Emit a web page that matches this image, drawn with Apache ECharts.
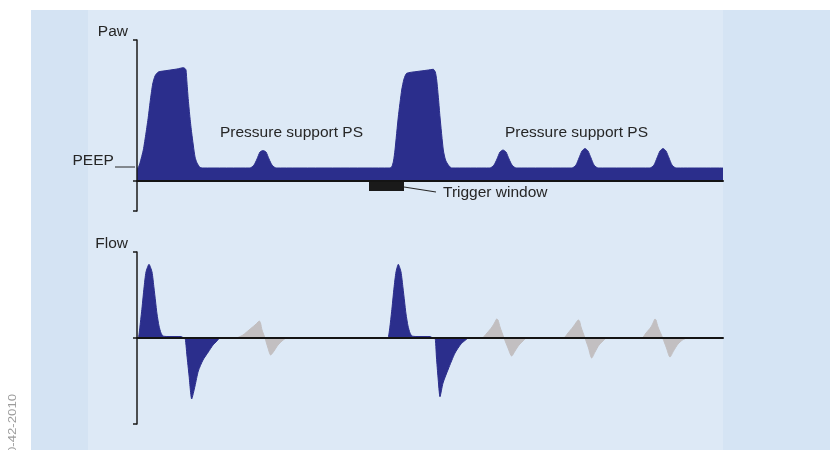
<!DOCTYPE html>
<html>
<head>
<meta charset="utf-8">
<script src="https://cdn.jsdelivr.net/npm/echarts@6/dist/echarts.min.js"></script>
<style>html,body{margin:0;padding:0;background:#fff;}#c{width:830px;height:450px;}</style>
</head>
<body>
<div id="c"></div>
<script>
// ---- Data (time in arbitrary units, pressure / flow in arbitrary units) ----
const pawTime = [0,1.5,3,6.3,9,11.3,13.5,15.7,18,21.3,30,40,46.3,48,49,50,51.3,53,54.7,58,60,63,66,
  113,117,120,123,126,129,132,135,139,
  252,254.7,256.5,258,261.3,264.7,267,269.7,280,290,296.3,298.3,299.7,301.5,303,306.3,308.5,311.3,314.7,
  353,357,360,363,366,369,372,375,379,
  435,439,442,445,448,451,454,457,461,
  513,517,520,523,526,529,532,535,539,
  586];
const pawValue = [12.5,14,18,31,48,64,82,97,105,109,110.5,112,113.3,112.5,111,98,81,63,48,24,18,13.7,13,
  13,16,22,29,30.5,29,22,16,13,
  13,14,20,31,64,91,102,107.7,109.5,110.8,111.7,109,101,82,64,31,21,16,13,
  13,16,22,29,31,29,22,16,13,
  13,16,23,30,32.5,30,23,16,13,
  13,16,23,30,32.5,30,23,16,13,
  13];
const flowMandTime = [0,1.3,3,5,7,9,12,15,17,18.5,20,22,24,26,30,44,47,
  48,50,52,54.7,58,61.3,66,71.3,76,80,83,
  249.7,251,253,255,257,259,261.3,264,266,267.5,269,271,273,275,279,293,296,
  298,299.5,301,303,306,311.3,318,324,331];
const flowMandValue = [0,0,12,30,50,66,73.7,66,50,37,24,12,5,2,1.5,1.5,0,
  0,-18,-37,-61,-48,-33,-22,-14,-7,-3,0,
  0,0,12,30,50,66,73.7,66,50,37,24,12,5,2,1.5,1.5,0,
  0,-20,-39,-58.7,-45,-31,-15,-6,0];
const flowSpontTime = [99.7,106,112,118,121,122.3,123.5,125,128,131,133.7,137,141,145,149.7,
  344.7,350,355,358,359.7,361,363,367,371,374.7,378,382,386,389.7,
  426.3,431,436,439.5,441.3,442.5,444,448,451.5,454.7,458,462,466,469.7,
  504.7,509,514,516.5,518,519,521,525.7,529.5,533,536.5,541,545.5,549.7];
const flowSpontValue = [0,3,8,13,16,17,15,8,0,-10,-17,-13,-7,-3,0,
  0,5,11,16,19,18,11,0,-10,-18,-13,-7,-3,0,
  0,5,11,16,18,17,11,0,-10,-20,-14,-7,-3,0,
  0,5,11,16,19,18,11,0,-10,-19,-13,-6,-2,0];
const triggerWindow = [232, 267];   // time range
const triggerDepth = -10;
const timeRange = [0, 586];
const pawRange = [-30, 141];
const flowRange = [-86, 86];
const labels = {paw: 'Paw', flow: 'Flow', peep: 'PEEP', ps: 'Pressure support PS', trig: 'Trigger window', code: '0-42-2010'};

// ---- Build ----
const zip = (a, b) => a.map((v, i) => [v, b[i]]);
const NAVY = '#2b2e8c', GRAY = '#c2bfc1', INK = '#262626', AX = '#1a1a1a';
const FONT = '15.5px "Liberation Sans", Arial, sans-serif';

function xAx(gi) {
  return {type: 'value', gridIndex: gi, min: timeRange[0], max: timeRange[1], z: 5,
    axisLine: {show: true, onZero: true, lineStyle: {color: '#141414', width: 2}},
    axisTick: {show: false}, axisLabel: {show: false}, splitLine: {show: false}};
}
function yAx(gi, r) {
  return {type: 'value', gridIndex: gi, min: r[0], max: r[1], z: 5,
    axisLine: {show: true, lineStyle: {color: AX, width: 1.5}},
    axisTick: {show: true, customValues: [r[0], 0, r[1]], length: 4, lineStyle: {color: AX, width: 1.5}},
    axisLabel: {show: false}, splitLine: {show: false}};
}
function txt(x, y, text, align, extra) {
  return Object.assign({type: 'text', x: x, y: y, z: 20,
    style: {text: text, font: FONT, fill: INK, align: align, verticalAlign: 'middle',
      textAlign: align, textVerticalAlign: 'middle'}}, extra || {});
}

const chart = echarts.init(document.getElementById('c'), null, {renderer: 'canvas'});
chart.setOption({
  animation: false,
  backgroundColor: '#ffffff',
  grid: [
    {left: 137, right: 107, top: 40, height: 171},
    {left: 137, right: 107, top: 252, height: 172}
  ],
  xAxis: [xAx(0), xAx(1)],
  yAxis: [yAx(0, pawRange), yAx(1, flowRange)],
  series: [
    {type: 'line', xAxisIndex: 0, yAxisIndex: 0, data: zip(pawTime, pawValue), symbol: 'none', smooth: 0.2,
      lineStyle: {color: NAVY, width: 1}, areaStyle: {color: NAVY, opacity: 1},
      markArea: {silent: true, itemStyle: {color: '#1a1a1a', opacity: 1}, label: {show: false},
        data: [[{coord: [triggerWindow[0], 0]}, {coord: [triggerWindow[1], triggerDepth]}]]}},
    {type: 'line', xAxisIndex: 1, yAxisIndex: 1, data: zip(flowSpontTime, flowSpontValue), symbol: 'none', smooth: 0.25,
      lineStyle: {color: GRAY, width: 1}, areaStyle: {color: GRAY, opacity: 1}},
    {type: 'line', xAxisIndex: 1, yAxisIndex: 1, data: zip(flowMandTime, flowMandValue), symbol: 'none', smooth: 0.2,
      lineStyle: {color: NAVY, width: 1}, areaStyle: {color: NAVY, opacity: 1}}
  ],
  graphic: [
    {type: 'rect', z: -10, shape: {x: 31, y: 10, width: 799, height: 440}, style: {fill: '#dde9f6'}},
    {type: 'rect', z: -9, shape: {x: 31, y: 10, width: 57, height: 440}, style: {fill: '#d4e3f3'}},
    {type: 'rect', z: -9, shape: {x: 723, y: 10, width: 107, height: 440}, style: {fill: '#d5e4f4'}},
    txt(128, 31.5, labels.paw, 'right'),
    txt(128, 243.5, labels.flow, 'right'),
    txt(72.5, 160.5, labels.peep, 'left'),
    txt(220, 133, labels.ps, 'left'),
    txt(505, 133, labels.ps, 'left'),
    txt(443, 193, labels.trig, 'left'),
    {type: 'line', z: 20, shape: {x1: 115, y1: 167, x2: 135, y2: 167}, style: {stroke: INK, lineWidth: 1}},
    {type: 'line', z: 20, shape: {x1: 404, y1: 187, x2: 436, y2: 192}, style: {stroke: INK, lineWidth: 1.2}},
    {type: 'text', x: 13, y: 424, rotation: Math.PI / 2, scaleX: 1.2, z: 20,
      style: {text: labels.code, font: '11px "Liberation Sans", Arial, sans-serif', fill: '#9c9c9c',
        align: 'center', verticalAlign: 'middle', textAlign: 'center', textVerticalAlign: 'middle'}}
  ]
});
</script>
</body>
</html>
